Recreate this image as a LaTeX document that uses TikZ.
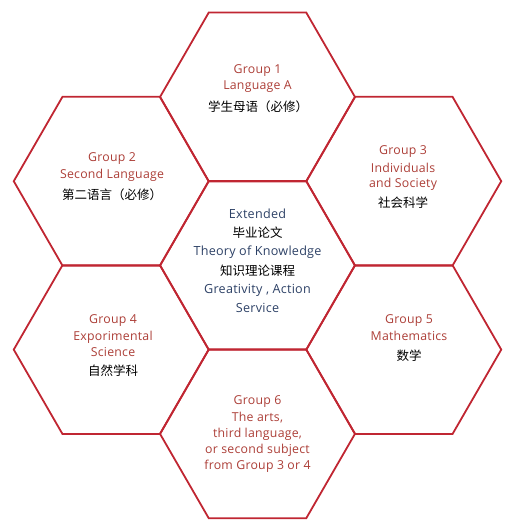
\documentclass[tikz,border=0pt]{standalone}
\usepackage{fontspec}
\setmainfont{Open Sans}[LetterSpace=2]
\newfontfamily\cjk{Noto Sans CJK SC}
\usetikzlibrary{shapes.geometric}
\definecolor{hexred}{RGB}{192,38,50}
\definecolor{grptext}{RGB}{172,62,55}
\definecolor{coretext}{RGB}{45,65,102}
\tikzset{
  hexa/.style={draw=hexred, line width=1.8pt, regular polygon, regular polygon sides=6,
    minimum size=195pt, inner sep=0pt, outer sep=0pt},
  grp/.style={text=grptext, font=\fontsize{12.3}{14}\selectfont, inner sep=0pt},
  core/.style={text=coretext, font=\fontsize{12.6}{14}\selectfont, inner sep=0pt},
  zh/.style={text=black, font=\cjk\fontsize{12.5}{14}\selectfont, inner sep=0pt}
}
\begin{document}
\begin{tikzpicture}[x=1pt,y=-1pt]
\useasboundingbox (0,0) rectangle (510,529);
% hexagons
\node[hexa] (h1) at (257.5,97) {};
\node[hexa] (hc) at (257.5,265.4) {};
\node[hexa] (h6) at (257.5,433.8) {};
\node[hexa] (h2) at (111.25,181.2) {};
\node[hexa] (h4) at (111.25,349.6) {};
\node[hexa] (h3) at (403.75,181.2) {};
\node[hexa] (h5) at (403.75,349.6) {};
% group 1
\node[grp] (g1a) at (257.5,71) {Group 1};
\node[grp] (g1b) at (257.5,87) {Language A};
\node[zh]  (g1c) at (258,107) {学生母语（必修）};
% group 2
\node[grp] (g2a) at (112,159) {Group 2};
\node[grp] (g2b) at (112,175) {Second Language};
\node[zh]  (g2c) at (112,195) {第二语言（必修）};
% group 3
\node[grp] (g3a) at (403,152) {Group 3};
\node[grp] (g3b) at (403,168) {Individuals};
\node[grp] (g3c) at (403,184) {and Society};
\node[zh]  (g3d) at (403,203) {社会科学};
% core
\node[core] (c1) at (257.5,214) {Extended};
\node[zh]   (c2) at (257.5,233) {毕业论文};
\node[core] (c3) at (257.5,252) {Theory of Knowledge};
\node[zh]   (c4) at (257.5,271) {知识理论课程};
\node[core] (c5) at (257.5,290) {Greativity , Action};
\node[core] (c6) at (257.5,308) {Service};
% group 4
\node[grp] (g4a) at (113,321) {Group 4};
\node[grp] (g4b) at (113,337) {Exporimental};
\node[grp] (g4c) at (113,352) {Science};
\node[zh]  (g4d) at (113,371) {自然学科};
% group 5
\node[grp] (g5a) at (409,321) {Group 5};
\node[grp] (g5b) at (409,336) {Mathematics};
\node[zh]  (g5c) at (409,356) {数学};
% group 6
\node[grp] (g6a) at (257.5,402) {Group 6};
\node[grp] (g6b) at (257.5,418) {The arts,};
\node[grp] (g6c) at (257.5,434) {third language,};
\node[grp] (g6d) at (257.5,450) {or second subject};
\node[grp] (g6e) at (257.5,466) {from Group 3 or 4};
\end{tikzpicture}
\end{document}
